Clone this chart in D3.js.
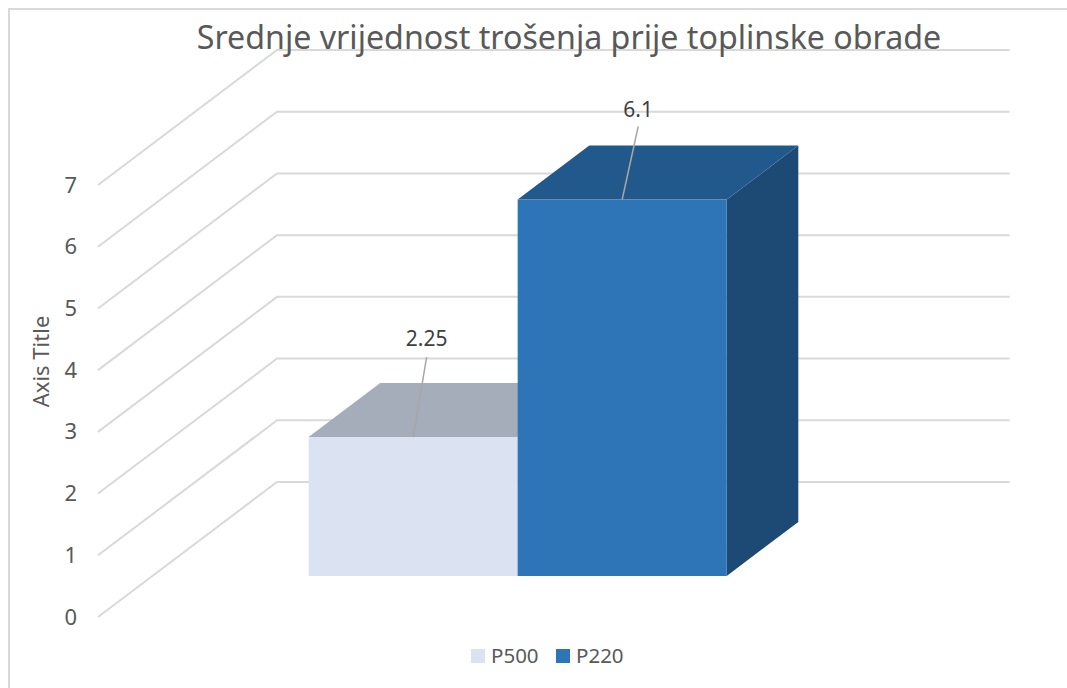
<!DOCTYPE html>
<html>
<head>
<meta charset="utf-8">
<script src="https://cdn.jsdelivr.net/npm/d3@7/dist/d3.min.js"></script>
<style>
html,body{margin:0;padding:0;background:#fff;overflow:hidden}
svg{display:block}
text{font-family:"Noto Sans","Open Sans",sans-serif}
</style>
</head>
<body>
<svg id="c" width="1067" height="688"></svg>
<script>
const titleText = "Srednje vrijednost trošenja prije toplinske obrade";
const axisTitle = "Axis Title";
const series = ["P500", "P220"];
const values = [2.25, 6.1];
const valueLabels = ["2.25", "6.1"];
const ticks = [0, 1, 2, 3, 4, 5, 6, 7];
const frontColors = ["#dbe3f2", "#2e75b7"];
const topColors = ["#a6adba", "#22598c"];
const sideColors = ["#a3aab5", "#1c4a74"];

const svg = d3.select("#c");
const grey = "#595959";

// Oblique projection: z 0 = front of floor, z 1 = back wall
const y = d3.scaleLinear().domain([0, 7]).range([617, 185]);
const zx = d3.scaleLinear().domain([0, 1]).range([0, 179]);
const zy = d3.scaleLinear().domain([0, 1]).range([0, -135]);
const plotX = d3.scaleLinear().domain([0, 1]).range([98, 830.6]);
const barX = d3.scaleBand().domain(series).range([254.2, 672.3]);
const zFront = 0.304, zBack = 0.704;

// manual data-label layout (leader line top and text lift above the bar's front edge)
const leaderLift = [80, 73];
const leaderShift = [13.5, 16];
const textLift = [91, 83];

const P = (px, v, z) => [px + zx(z), y(v) + zy(z)];
const line = d3.line();

// chart frame
svg.append("path").attr("d", line([[9, 688], [9, 9], [1067, 9]]))
  .attr("fill", "none").attr("stroke", "#d9d9d9").attr("stroke-width", 2);

// grid
svg.append("g").selectAll("path").data(ticks).join("path")
  .attr("d", t => line([P(plotX(0), t, 0), P(plotX(0), t, 1), P(plotX(1), t, 1)]))
  .attr("fill", "none").attr("stroke", "#d9d9d9").attr("stroke-width", 2);

// bars
const bars = svg.append("g").selectAll("g")
  .data(series.map((s, i) => ({ s, v: values[i], i }))).join("g");

const quad = pts => line(pts) + "Z";
bars.append("path").attr("fill", d => sideColors[d.i]).attr("d", d => {
  const r = barX(d.s) + barX.bandwidth();
  return quad([P(r, 0, zFront), P(r, d.v, zFront), P(r, d.v, zBack), P(r, 0, zBack)]);
});
bars.append("path").attr("fill", d => topColors[d.i]).attr("d", d => {
  const l = barX(d.s), r = l + barX.bandwidth();
  return quad([P(l, d.v, zFront), P(r, d.v, zFront), P(r, d.v, zBack), P(l, d.v, zBack)]);
});
bars.append("path").attr("fill", d => frontColors[d.i]).attr("d", d => {
  const l = barX(d.s), r = l + barX.bandwidth();
  return quad([P(l, 0, zFront), P(r, 0, zFront), P(r, d.v, zFront), P(l, d.v, zFront)]);
});

// leader lines and value labels
const anchor = d => P(barX(d.s) + barX.bandwidth() / 2, d.v, zFront);
bars.append("path").attr("fill", "none").attr("stroke", "#a6a6a6").attr("stroke-width", 1.5)
  .attr("d", d => {
    const [fx, fy] = anchor(d);
    return line([[fx + leaderShift[d.i], fy - leaderLift[d.i]], [fx, fy]]);
  });
bars.append("text").attr("text-anchor", "middle").attr("font-size", 21).attr("fill", "#404040")
  .attr("x", d => anchor(d)[0] + leaderShift[d.i])
  .attr("y", d => anchor(d)[1] - textLift[d.i])
  .text(d => valueLabels[d.i]);

// y axis labels
const axis = d3.axisLeft(y).tickValues(ticks).tickSize(0).tickPadding(0).tickFormat(d3.format("d"));
const ag = svg.append("g").attr("transform", "translate(77,0)").call(axis);
ag.select(".domain").remove();
ag.selectAll("text").attr("font-size", 22).attr("fill", grey)
  .style("font-family", '"Noto Sans","Open Sans",sans-serif');

// axis title
svg.append("text").attr("transform", "translate(49,361.5) rotate(-90)")
  .attr("text-anchor", "middle").attr("font-size", 22).attr("fill", grey).text(axisTitle);

// chart title
svg.append("text").attr("x", 569).attr("y", 48.5).attr("text-anchor", "middle")
  .attr("font-size", 32.2).attr("fill", grey).text(titleText);

// legend
const legendX = d3.scaleOrdinal().domain(series).range([471, 556]);
const lg = svg.append("g").selectAll("g").data(series).join("g")
  .attr("transform", s => `translate(${legendX(s)},649)`);
lg.append("rect").attr("width", 14).attr("height", 14)
  .attr("fill", (s, i) => frontColors[i]);
lg.append("text").attr("x", 20).attr("y", 14).attr("font-size", 20.5).attr("fill", grey).text(s => s);
</script>
</body>
</html>
